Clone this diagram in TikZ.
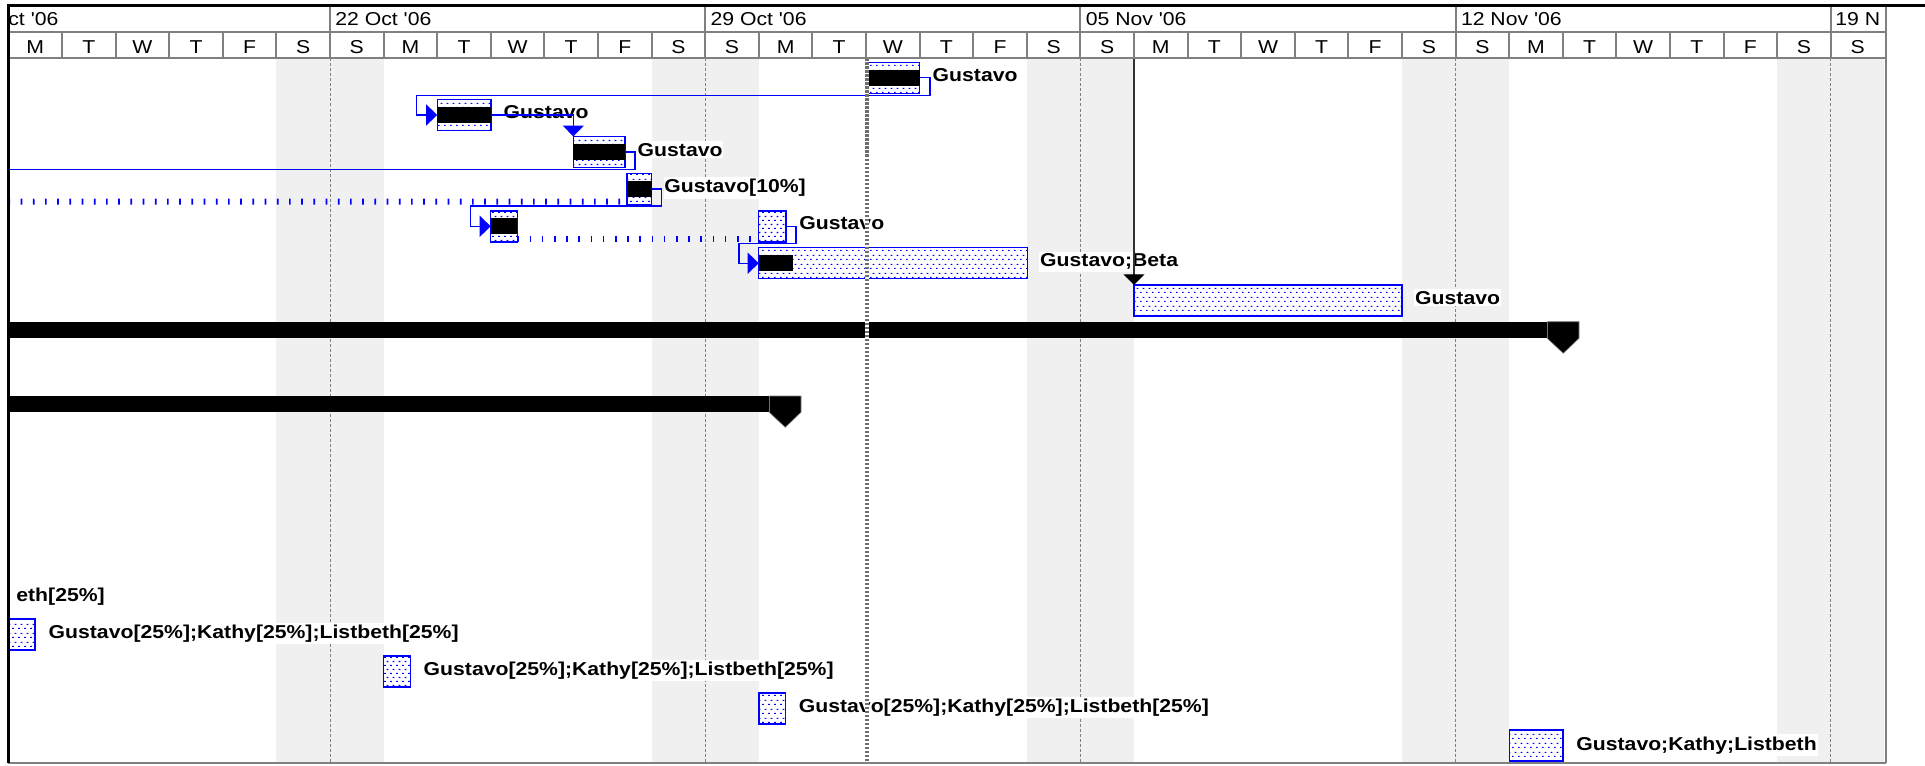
\documentclass[tikz,border=0pt]{standalone}
\usepackage{fontspec}
\setmainfont{Liberation Sans}[Ligatures=TeXOff]
\usepackage{graphicx}
\usetikzlibrary{arrows.meta,patterns.meta,calc}
\pgfdeclarelayer{shade}
\pgfdeclarelayer{lbl}
\pgfdeclarelayer{conn}
\pgfdeclarelayer{top}
\pgfsetlayers{shade,lbl,conn,main,top}
\newcommand\vsq[1]{\scalebox{1}[0.88]{#1}}
\definecolor{wkend}{HTML}{F0F0F0}
\definecolor{gridgray}{HTML}{808080}
\definecolor{nowgray}{HTML}{6E6E6E}
\definecolor{msblue}{HTML}{0000FF}
\tikzdeclarepattern{
  name=msdots,
  type=uncolored,
  bounding box={(0,0) and (3pt,4.2pt)},
  tile size={(3pt,4.2pt)},
  code={
    \fill (0,0) rectangle (1pt,0.55pt);
    \fill (1.5pt,2.1pt) rectangle (2.5pt,2.65pt);
  }
}
\tikzset{
  taskbox/.style={draw=msblue, line width=0.7pt, fill=white,
    postaction={pattern=msdots, pattern color=msblue},
    inner sep=0pt, outer sep=0pt, minimum height=15.5pt},
  conn/.style={draw=msblue, line width=0.65pt},
  tip/.style={-{Triangle[length=5.5pt,width=10.5pt]}},
  split/.style={draw=msblue, line width=3pt, dash pattern=on 0.85pt off 5.25pt},
  lbl/.style={font=\fontsize{10.6}{12}\selectfont\bfseries, anchor=base west, fill=white, inner xsep=0.4pt, inner ysep=1pt},
  hdr/.style={font=\fontsize{10.6}{12}\selectfont, inner sep=0pt},
  gline/.style={draw=gridgray, line width=1pt},
}
\begin{document}
\begin{tikzpicture}[x=0.5pt,y=-0.5pt]
\useasboundingbox (0,0) rectangle (1925,765);
% ---------- background, weekends, week separators
\begin{pgfonlayer}{shade}
\fill[white] (0,0) rectangle (1925,765);
\foreach \k in {5,12,19,26,33}
  \fill[wkend] ({8.4+53.6*\k},58.5) rectangle ({8.4+53.6*(\k+2)},762);
\foreach \k in {6,13,20,27,34}
  \draw[gridgray, line width=0.5pt, dash pattern=on 1.5pt off 1pt] ({8.4+53.6*\k},58.5) -- ({8.4+53.6*\k},762);
\end{pgfonlayer}
% ---------- task boxes
\node[taskbox, minimum width=26.8pt]  (b1)  at (892.8,77.8) {};
\node[taskbox, minimum width=26.8pt]  (b2)  at (464,115) {};
\node[taskbox, minimum width=25.85pt] (b3)  at (599.15,152) {};
\node[taskbox, minimum width=12.35pt] (b4)  at (639.35,189) {};
\node[taskbox, minimum width=13.3pt]  (b5)  at (504,226.3) {};
\node[taskbox, minimum width=13.85pt] (b5b) at (772.15,226.3) {};
\node[taskbox, minimum width=134.3pt] (b6)  at (893,263.2) {};
\node[taskbox, minimum width=134pt]   (b7)  at (1268,300.3) {};
\node[taskbox, minimum width=13.3pt]  (b16) at (21.7,634.3) {};
\node[taskbox, minimum width=13.4pt]  (b17) at (397,671.4) {};
\node[taskbox, minimum width=13.4pt]  (b18) at (772.2,708.5) {};
\node[taskbox, minimum width=26.9pt]  (b19) at (1536.1,745.6) {};
% progress bars
\foreach \b in {b1,b2,b3,b4,b5}
  \fill[black] ($(\b.west)+(0,-8)$) rectangle ($(\b.east)+(0,8)$);
\fill[black] ($(b6.west)+(0,-8)$) rectangle ($(b6.west)+(34,8)$);
% summary bars
\fill[black] (8.4,321.7) rectangle (1547.3,338.3);
\filldraw[fill=black, draw=gray, line width=0.3pt] (1547.3,321.7) -- (1579,321.7) -- (1579,338.3) -- (1563.2,353.3) -- (1547.3,338.3) -- cycle;
\fill[black] (8.4,396) rectangle (769.3,412.3);
\filldraw[fill=black, draw=gray, line width=0.3pt] (769.3,396) -- (801,396) -- (801,412.3) -- (785.2,427.3) -- (769.3,412.3) -- cycle;
% ---------- labels
\begin{pgfonlayer}{lbl}
\node[lbl] (l1)  at (931.5,81.7)  {\vsq{Gustavo}};
\node[lbl] (l2)  at (502.5,118.3) {\vsq{Gustavo}};
\node[lbl] (l3)  at (636.5,156)   {\vsq{Gustavo}};
\node[lbl] (l4)  at (663.2,192.7) {\vsq{Gustavo[10\%]}};
\node[lbl] (l5)  at (798.2,229)   {\vsq{Gustavo}};
\node[lbl] (l6)  at (1039,266.7)  {\vsq{Gustavo;Beta}};
\node[lbl] (l7)  at (1414,304)    {\vsq{Gustavo}};
\node[lbl] (l15) at (15.2,601.5)  {\vsq{eth[25\%]}};
\node[lbl] (l16) at (47.5,638.5)  {\vsq{Gustavo[25\%];Kathy[25\%];Listbeth[25\%]}};
\node[lbl] (l17) at (422.5,675.5) {\vsq{Gustavo[25\%];Kathy[25\%];Listbeth[25\%]}};
\node[lbl] (l18) at (797.7,712.5) {\vsq{Gustavo[25\%];Kathy[25\%];Listbeth[25\%]}};
\node[lbl] (l19) at (1575.2,750)  {\vsq{Gustavo;Kathy;Listbeth}};
\end{pgfonlayer}
% ---------- connectors
\begin{pgfonlayer}{conn}
\coordinate (e3) at (8.4,169.3);
\coordinate (e4) at (8.4,201.7);
\coordinate (dl) at (1134,58.5);
\draw[conn, tip] (b1.east) -- ++(10.4,0) -- ++(0,17.9) -| ($(b2.west)+(-20.5,0)$) -- (b2.west);
\draw[conn, tip] (b2.east) -| (b3.north west);
\draw[conn] (b3.east) -- ++(10,0) |- (e3);
\draw[split] (e4) -- ($(b4.south west)+(0,-3)$);
\draw[conn, tip] (b4.east) -- ++(10,0) -- ++(0,17) -| ($(b5.west)+(-20,0)$) -- (b5.west);
\draw[split] ($(b5.south east)+(0,-3)$) -- ($(b5b.south west)+(0,-3)$);
\draw[conn, tip] (b5b.east) -- ++(10,0) -- ++(0,17) -| ($(b6.west)+(-19.7,0)$) -- (b6.west);
\draw[black!80, line width=0.6pt] (dl) -- ($(b7.north west)+(0,-10)$);
\draw[black, line width=0.6pt, -{Triangle[length=5.25pt,width=10.5pt]}] ($(b7.north west)+(0,-10.5)$) -- (b7.north west);
\end{pgfonlayer}
% ---------- current date line and header
\begin{pgfonlayer}{top}
\draw[white, line width=1.6pt] (867,58.5) -- (867,762);
\draw[nowgray, line width=1.6pt, dash pattern=on 1.4pt off 0.6pt] (867,58.5) -- (867,762);
% header lines
\draw[gline] (8.4,32.3) -- (1885.5,32.3);
\draw[gline] (8.4,58.5) -- (1885.5,58.5);
\foreach \k in {6,13,20,27,34}
  \draw[gline] ({8.4+53.6*\k},5) -- ({8.4+53.6*\k},32.3);
\foreach \k in {1,...,34}
  \draw[gline] ({8.4+53.6*\k},32.3) -- ({8.4+53.6*\k},58.5);
% day letters
\foreach \w in {0,...,4}
  \foreach \d [count=\i from 0] in {M,T,W,T,F,S,S}
    \node[hdr, anchor=base] (d\w\i) at ({8.4+53.6*(7*\w+\i)+26.8},53.3) {\vsq{\d}};
% month labels
\begin{scope}
\clip (8.4,5) rectangle (1884,32.3);
\node[hdr, anchor=base west] (m0) at (-8.5,26) {\vsq{Oct '06}};
\node[hdr, anchor=base west] (m1) at (335,26) {\vsq{22 Oct '06}};
\node[hdr, anchor=base west] (m2) at (710.2,26) {\vsq{29 Oct '06}};
\node[hdr, anchor=base west] (m3) at (1085.4,26) {\vsq{05 Nov '06}};
\node[hdr, anchor=base west] (m4) at (1460.6,26) {\vsq{12 Nov '06}};
\end{scope}
\begin{scope}
\clip (1831,5) rectangle (1879,32.3);
\node[hdr, anchor=base west] (m5) at (1835,26) {\vsq{19 Nov '06}};
\end{scope}
% borders
\draw[gline] (8.4,762.7) -- (1885.5,762.7);
\draw[gline] (1885.5,5) -- (1885.5,763.2);
\draw[black, line width=1.2pt] (8.6,4.5) -- (8.6,763.2);
\draw[black, line width=1.5pt] (8,5.2) -- (1925,5.2);
\end{pgfonlayer}
\end{tikzpicture}
\end{document}
